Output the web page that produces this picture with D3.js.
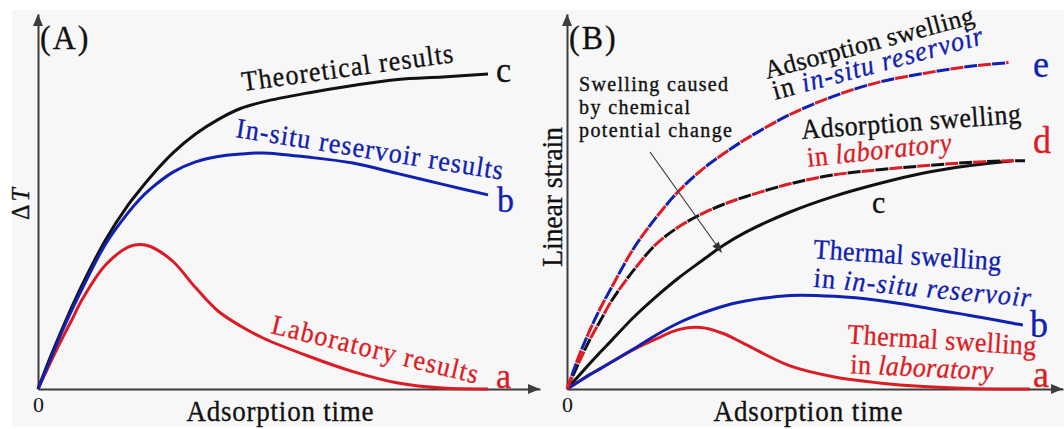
<!DOCTYPE html>
<html>
<head>
<meta charset="utf-8">
<script src="https://cdn.jsdelivr.net/npm/d3@7"></script>
<style>
  html, body { margin: 0; padding: 0; background: #ffffff; }
  svg { display: block; }
  text { font-family: "Liberation Serif", "Times New Roman", serif; }
</style>
</head>
<body>
<svg id="fig" width="1064" height="429"></svg>
<script>
// ---------------- Panel A: temperature rise vs adsorption time ----------------
const timeA        = [0, 0.25, 0.5, 0.75, 1, 1.5, 2, 2.25, 2.5, 3, 3.5, 4, 4.5, 5, 6, 7, 8, 9, 10];
const theoreticalA = [0, 9.7, 18.7, 27.3, 35.3, 49.7, 61.3, 66.1, 70.7, 78.7, 85, 89.8, 93.5, 95.7, 98.7, 101.2, 103.2, 104, 105];
const inSituA      = [0, 9, 18, 26.3, 34, 48.3, 58.7, 63.1, 66.7, 72.3, 75.7, 77.5, 78.3, 78.7, 77.3, 75.3, 71.8, 68.2, 64.7];
const laboratoryA  = [0, 8, 15.7, 23, 30.3, 41.3, 47.3, 48.2, 47.5, 42.5, 33.8, 26, 21, 17, 11, 5.8, 2, 0.3, 0];

// ---------------- Panel B: linear strain vs adsorption time ----------------
const timeE = [0, 0.25, 0.5, 0.75, 1, 1.5, 2, 2.5, 3, 3.5, 4, 5, 6, 7, 8, 9, 9.9];
const adsorptionInSituB = [0, 10.3, 19.2, 27, 33.9, 47, 57.2, 65.9, 72.8, 78.3, 83.2, 91.5, 97.7, 102.3, 105.2, 107.5, 108.8];
const timeD = [0, 0.25, 0.5, 0.75, 1, 1.5, 2, 2.5, 3, 3.5, 4, 5, 6, 7, 8, 9, 10, 10.27];
const adsorptionLabB = [0, 8.3, 16.1, 22.8, 29.4, 39.7, 48.3, 54, 58.2, 61.5, 64.1, 68.4, 71.4, 73.1, 74.4, 75.5, 76.1, 76.1];
const timeC = [0, 0.25, 0.5, 0.75, 1, 1.5, 2, 2.5, 3, 3.5, 4, 5, 6, 7, 8, 9, 10];
const chemicalB = [0, 4.2, 8.3, 12.3, 16.2, 24, 30.8, 37, 42.5, 47.8, 52.2, 59, 64.3, 68.5, 72, 74.4, 76.1];
const timeBb = [0, 0.25, 0.5, 0.75, 1, 1.5, 2, 2.5, 3, 3.5, 4, 5, 6, 7, 8, 9, 10, 10.22];
const thermalInSituB = [0, 2.3, 4.7, 6.8, 9, 13.4, 18, 22, 25.1, 27.6, 29.3, 31.2, 30.9, 29.5, 27.2, 24.6, 21.9, 21.3];
const timeBa = [0, 0.25, 0.5, 0.75, 1, 1.5, 2, 2.5, 3, 3.5, 4, 5, 6, 7, 8, 9, 10, 10.38];
const thermalLabB = [0, 2.3, 4.7, 6.8, 9, 13.2, 16.7, 19.8, 20.5, 18.5, 14.9, 7.7, 4, 2, 0.8, 0.2, 0, 0];

const originTick = [0];

// ---------------- styling ----------------
const RED = "#dc1c24", BLUE = "#1020b0", BLACK = "#111111", AXIS = "#3d3d3d";
const SERIF = '"Liberation Serif", "Times New Roman", serif';

const svg = d3.select("#fig");
svg.append("rect").attr("x", 12).attr("y", 10).attr("width", 1052).attr("height", 417).attr("fill", "#f7f7f7");

// scales
const yScale = d3.scaleLinear().domain([0, 100]).range([389, 89]);
const xA = d3.scaleLinear().domain([0, 10]).range([38, 488]);
const xB = d3.scaleLinear().domain([0, 10]).range([567, 1013]);

function drawAxes(g, x, y, xEnd, yTop) {
  const xs = x.copy().domain([0, x.invert(xEnd)]).range([x(0), xEnd]);
  const ys = y.copy().domain([0, y.invert(yTop)]).range([y(0), yTop]);
  const y0 = y(0), x0 = x(0);
  g.append("g").attr("transform", `translate(0,${y0})`)
    .call(d3.axisBottom(xs).tickValues(originTick).tickSize(0).tickSizeOuter(0).tickPadding(7).tickFormat(d3.format("d")))
    .call(a => a.select(".domain").attr("stroke", AXIS).attr("stroke-width", 2))
    .call(a => a.selectAll("text").attr("font-family", SERIF).attr("font-size", 22).attr("fill", BLACK));
  g.append("g").attr("transform", `translate(${x0},0)`)
    .call(d3.axisLeft(ys).tickValues([]).tickSizeOuter(0))
    .call(a => a.select(".domain").attr("stroke", AXIS).attr("stroke-width", 2));
  // arrowheads
  g.append("path").attr("d", `M${xEnd},${y0} L${xEnd - 12},${y0 - 5} L${xEnd - 12},${y0 + 5} Z`).attr("fill", AXIS);
  g.append("path").attr("d", `M${x0},${yTop} L${x0 - 5},${yTop + 12} L${x0 + 5},${yTop + 12} Z`).attr("fill", AXIS);
}

function curve(x, y) {
  return d3.line().x(d => x(d[0])).y(d => y(d[1])).curve(d3.curveCatmullRom.alpha(0.5));
}

function solid(g, d, color) {
  g.append("path").attr("d", d).attr("fill", "none").attr("stroke", color)
    .attr("stroke-width", 3).attr("stroke-linecap", "butt");
}

function twoTone(g, d, c1, c2) {
  g.append("path").attr("d", d).attr("fill", "none").attr("stroke", c1)
    .attr("stroke-width", 3).attr("stroke-dasharray", "13 15");
  g.append("path").attr("d", d).attr("fill", "none").attr("stroke", c2)
    .attr("stroke-width", 3).attr("stroke-dasharray", "13 15").attr("stroke-dashoffset", 14);
}

function label(g, x, y, angle, size, parts, length, anchor, stretch) {
  const sy = stretch == null ? 1.08 : stretch;
  const t = g.append("text")
    .attr("transform", `translate(${x},${y}) rotate(${angle}) scale(1,${sy})`)
    .attr("font-size", size)
    .attr("stroke-width", 0.3)
    .attr("text-anchor", anchor || "start");
  if (length) t.attr("textLength", length).attr("lengthAdjust", "spacing");
  parts.forEach(p => {
    t.append("tspan").text(p.text).attr("fill", p.color).attr("stroke", p.color)
      .attr("font-style", p.italic ? "italic" : "normal");
  });
  return t;
}

// ================= Panel A =================
const gA = svg.append("g");
drawAxes(gA, xA, yScale, 540, 14);

const lineA = curve(xA, yScale);
solid(gA, lineA(d3.zip(timeA, laboratoryA)), RED);
solid(gA, lineA(d3.zip(timeA, theoreticalA)), BLACK);
solid(gA, lineA(d3.zip(timeA, inSituA)), BLUE);

label(gA, 40, 49, 0, 32, [{ text: "(A)", color: BLACK }]).attr("letter-spacing", 2);
label(gA, 29, 204, -90, 24, [{ text: "\u0394", color: BLACK }, { text: "T", color: BLACK, italic: true }], null, "middle")
  .select("tspan:last-child").attr("dx", 3);
label(gA, 280, 420.5, 0, 27, [{ text: "Adsorption time", color: BLACK }], 187, "middle");

label(gA, 243, 91, -7.8, 26, [{ text: "Theoretical results", color: BLACK }], 213);
label(gA, 235, 137, 9.1, 26, [{ text: "In-situ reservoir results", color: BLUE }], 270);
label(gA, 270, 333, 13.8, 26, [{ text: "Laboratory results", color: RED }], 212);

label(gA, 496, 82, 0, 34, [{ text: "c", color: BLACK }]);
label(gA, 497, 212, 0, 34, [{ text: "b", color: BLUE }]);
label(gA, 496, 388, 0, 34, [{ text: "a", color: RED }]);

// ================= Panel B =================
const gB = svg.append("g");
drawAxes(gB, xB, yScale, 1063, 14);

const lineB = curve(xB, yScale);
solid(gB, lineB(d3.zip(timeC, chemicalB)), BLACK);
solid(gB, lineB(d3.zip(timeBa, thermalLabB)), RED);
solid(gB, lineB(d3.zip(timeBb, thermalInSituB)), BLUE);
twoTone(gB, lineB(d3.zip(timeD, adsorptionLabB)), RED, BLACK);
twoTone(gB, lineB(d3.zip(timeE, adsorptionInSituB)), RED, BLUE);

label(gB, 569, 49, 0, 32, [{ text: "(B)", color: BLACK }]).attr("letter-spacing", 2);
label(gB, 562, 197, -90, 28, [{ text: "Linear strain", color: BLACK }], 140, "middle");
label(gB, 808, 420.5, 0, 27, [{ text: "Adsorption time", color: BLACK }], 189, "middle");

// three-line annotation with pointer
{
  const note = gB.append("text")
    .attr("transform", "translate(579,91)")
    .attr("font-size", 20).attr("fill", BLACK).attr("stroke", BLACK).attr("stroke-width", 0.35);
  [["Swelling caused", 0, 149], ["by chemical", 23, 111], ["potential change", 23, 153]].forEach(([s, dy, w]) => {
    note.append("tspan").attr("x", 0).attr("dy", dy).attr("textLength", w).attr("lengthAdjust", "spacing").text(s);
  });
  const x1 = 650, y1 = 152, x2 = 722, y2 = 253;
  const ang = Math.atan2(y2 - y1, x2 - x1);
  const L = 11, Wd = 4;
  const bx = x2 - L * Math.cos(ang), by = y2 - L * Math.sin(ang);
  gB.append("line").attr("x1", x1).attr("y1", y1).attr("x2", bx).attr("y2", by)
    .attr("stroke", "#333").attr("stroke-width", 1.1);
  gB.append("path")
    .attr("d", `M${x2},${y2} L${bx - Wd * Math.sin(ang)},${by + Wd * Math.cos(ang)} L${bx + Wd * Math.sin(ang)},${by - Wd * Math.cos(ang)} Z`)
    .attr("fill", "#333");
}

label(gB, 767, 79, -15, 26, [{ text: "Adsorption swelling", color: BLACK }], 216, null, 1);
label(gB, 775, 100, -15, 26, [{ text: "in ", color: BLACK }, { text: "in-situ reservoir", color: BLUE, italic: true }], 217);
label(gB, 802, 139, -4.2, 26, [{ text: "Adsorption swelling", color: BLACK }], 220);
label(gB, 808, 166.7, -6, 26, [{ text: "in ", color: RED }, { text: "laboratory", color: RED, italic: true }], 145);
label(gB, 872, 213, 0, 30, [{ text: "c", color: BLACK }]);

label(gB, 813, 258.3, 3.7, 26, [{ text: "Thermal swelling", color: BLUE }], 188);
label(gB, 813, 286.7, 5.3, 26, [{ text: "in ", color: BLUE }, { text: "in-situ reservoir", color: BLUE, italic: true }], 218);
label(gB, 847, 343.3, 3.6, 26, [{ text: "Thermal swelling", color: RED }], 189);
label(gB, 850, 373.3, 2.7, 26, [{ text: "in ", color: RED }, { text: "laboratory", color: RED, italic: true }], 143);

label(gB, 1033, 77, 0, 36, [{ text: "e", color: BLUE }]);
label(gB, 1033, 153, 0, 36, [{ text: "d", color: RED }]);
label(gB, 1030, 337, 0, 36, [{ text: "b", color: BLUE }]);
label(gB, 1033, 387, 0, 36, [{ text: "a", color: RED }]);
</script>
</body>
</html>
